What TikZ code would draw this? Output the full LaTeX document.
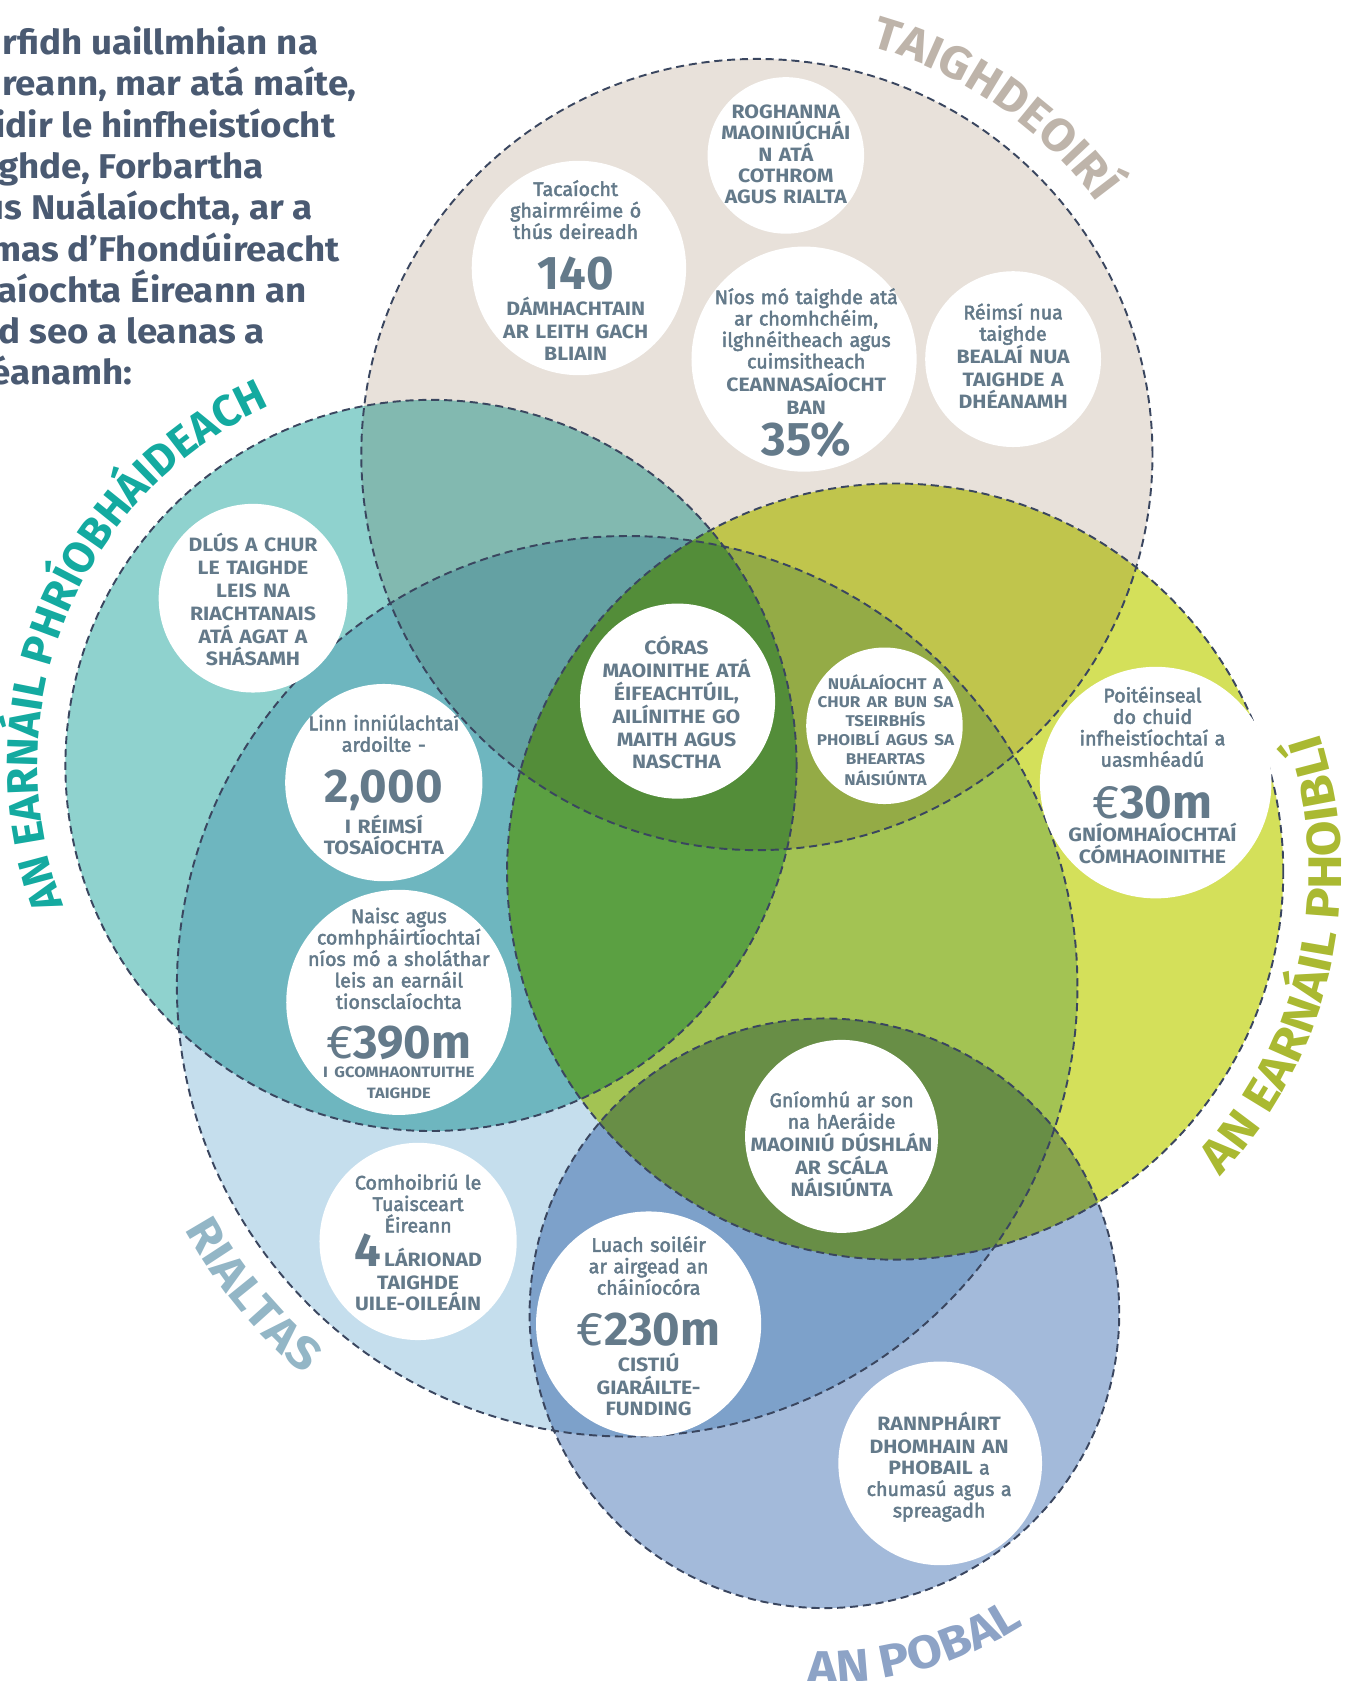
\documentclass[tikz,border=0pt]{standalone}
\usepackage{fontspec}
\setmainfont{Fira Sans}
\newfontfamily\fira{Fira Sans}
\newfontfamily\firar[FakeBold=2.5]{Fira Sans}
\newfontfamily\firaw[FakeStretch=1.1]{Fira Sans}
\newfontfamily\firat[FakeStretch=1.05]{Fira Sans}
\newfontfamily\firai[FakeStretch=1.07]{Fira Sans}
\usetikzlibrary{decorations.text}
\definecolor{beigef}{RGB}{232,225,218}
\definecolor{tealf}{RGB}{143,210,206}
\definecolor{yellf}{RGB}{212,224,90}
\definecolor{rialf}{RGB}{197,222,237}
\definecolor{pobf}{RGB}{163,186,218}
\definecolor{dashc}{RGB}{58,70,95}
\definecolor{textc}{RGB}{100,122,138}
\definecolor{introc}{RGB}{74,90,114}
\definecolor{taighc}{RGB}{190,180,170}
\definecolor{privc}{RGB}{20,170,160}
\definecolor{publc}{RGB}{170,185,50}
\definecolor{rialc}{RGB}{147,182,198}
\definecolor{pobc}{RGB}{141,163,198}
\newcommand\rg{\firar\mdseries\fontsize{18.3}{20}\selectfont}
\newcommand\cp{\firaw\bfseries\fontsize{18}{21.5}\selectfont}
\newcommand\cpt{\firaw\bfseries\fontsize{18}{20}\selectfont}
\newcommand\sm{\firaw\bfseries\fontsize{14.5}{17.5}\selectfont}
\newcommand\smb{\firaw\bfseries\fontsize{14}{18}\selectfont}
\newcommand\bignum{\fira\bfseries\fontsize{44}{44}\selectfont}
\newcommand\eur{{\fira\mdseries\fontsize{44}{44}\selectfont €}}
\begin{document}
\begin{tikzpicture}[x=1pt,y=1pt,
  venn/.style={blend mode=multiply},
  ring/.style={draw=dashc, line width=1.8pt, dash pattern=on 7.5pt off 4.5pt},
  bubble/.style={circle, fill=white, inner sep=0pt, draw=none},
  btext/.style={align=center, text width=240pt, text=textc, inner sep=0pt, font=\rg},
  intro/.style={anchor=base east, text=introc, inner sep=0pt, font=\firai\bfseries\fontsize{32}{38.5}\selectfont},
]
\useasboundingbox (0,0) rectangle (1265,1568);
\clip (0,0) rectangle (1265,1568);

% circle centres
\coordinate (cB) at (706,1144);
\coordinate (cT) at (402,854);
\coordinate (cY) at (835,755);
\coordinate (cR) at (585,648);
\coordinate (cP) at (769,343);

% fills (multiply)
\fill[venn, beigef] (cB) circle[radius=369];
\fill[venn, tealf] (cT) circle[radius=341];
\fill[venn, yellf] (cY) circle[radius=362];
\fill[venn, rialf] (cR) circle[radius=420];
\fill[venn, pobf] (cP) circle[radius=275];

% dashed outlines
\draw[ring] (cB) circle[radius=369];
\draw[ring] (cT) circle[radius=341];
\draw[ring] (cY) circle[radius=362];
\draw[ring] (cR) circle[radius=420];
\draw[ring] (cP) circle[radius=275];

% white bubbles
\node[bubble, minimum size=146pt] (b1) at (733,1423) {};
\node[bubble, minimum size=200pt] (b2) at (540,1318) {};
\node[bubble, minimum size=210pt] (b3) at (750,1233) {};
\node[bubble, minimum size=164pt] (b4) at (945,1233) {};
\node[bubble, minimum size=176pt] (b5) at (236,1010) {};
\node[bubble, minimum size=184pt] (b6) at (358,838) {};
\node[bubble, minimum size=182pt] (b7) at (632,914) {};
\node[bubble, minimum size=146pt] (b8) at (825,891) {};
\node[bubble, minimum size=216pt] (b9) at (1078,838) {};
\node[bubble, minimum size=210pt] (b10) at (372,633) {};
\node[bubble, minimum size=184pt] (b11) at (390,410) {};
\node[bubble, minimum size=180pt] (b12) at (785,508) {};
\node[bubble, minimum size=210pt] (b13) at (605,333) {};
\node[bubble, minimum size=190pt] (b14) at (877,203) {};

% bubble texts
\node[btext] (t1) at (733,1424) {\cpt ROGHANNA\\MAOINIÚCHÁI\\N ATÁ\\COTHROM\\AGUS RIALTA};
\node[btext] (t2) at (537,1316) {Tacaíocht\\ghairmréime ó\\thús deireadh\\[3pt]\bignum 140\\[3pt]\cp DÁMHACHTAIN\\AR LEITH GACH\\BLIAIN};
\node[btext] (t3) at (752,1220) {Níos mó taighde atá\\ar chomhchéim,\\ilghnéitheach agus\\cuimsitheach\\\cp CEANNASAÍOCHT\\BAN\\[6pt]\bignum 35\%};
\node[btext] (t4) at (945,1236) {Réimsí nua\\taighde\\\cp BEALAÍ NUA\\TAIGHDE A\\DHÉANAMH};
\node[btext] (t5) at (236,1009) {\cp DLÚS A CHUR\\LE TAIGHDE\\LEIS NA\\RIACHTANAIS\\ATÁ AGAT A\\SHÁSAMH};
\node[btext] (t6) at (358,836) {Linn inniúlachtaí\\ardoilte -\\[3pt]\bignum 2,000\\[3pt]\cp I RÉIMSÍ\\TOSAÍOCHTA};
\node[btext] (t7) at (631,913) {\cp CÓRAS\\MAOINITHE ATÁ\\ÉIFEACHTÚIL,\\AILÍNITHE GO\\MAITH AGUS\\NASCTHA};
\node[btext] (t8) at (826,887) {\sm NUÁLAÍOCHT A\\CHUR AR BUN SA\\TSEIRBHÍS\\PHOIBLÍ AGUS SA\\BHEARTAS\\NÁISIÚNTA};
\node[btext] (t9) at (1075,845) {Poitéinseal\\do chuid\\infheistíochtaí a\\uasmhéadú\\[4pt]\bignum \eur30m\\[2pt]\cpt GNÍOMHAÍOCHTAÍ\\CÓMHAOINITHE};
\node[btext] (t10) at (372,632) {Naisc agus\\comhpháirtíochtaí\\níos mó a sholáthar\\leis an earnáil\\tionsclaíochta\\[2pt]\bignum \eur390m\\\smb I GCOMHAONTUITHE\\TAIGHDE};
\node[btext] (t11) at (390,409) {Comhoibriú le\\Tuaisceart\\Éireann\\{\bignum 4}\,\cp LÁRIONAD\\TAIGHDE\\UILE-OILEÁIN};
\node[btext] (t12) at (785,501) {Gníomhú ar son\\na hAeráide\\\cp MAOINIÚ DÚSHLÁN\\AR SCÁLA\\NÁISIÚNTA};
\node[btext] (t13) at (605,331) {Luach soiléir\\ar airgead an\\cháiníocóra\\[3pt]\bignum \eur230m\\[3pt]\cp CISTIÚ\\GIARÁILTE-\\FUNDING};
\node[btext] (t14) at (876,200) {\cp RANNPHÁIRT\\DHOMHAIN AN\\PHOBAIL \rg a\\chumasú agus a\\spreagadh};

% intro text (cut at the left edge)
\node[intro] (i1) at (297,1517) {rfidh uaillmhian na};
\node[intro] (i2) at (333,1478.5) {reann, mar atá maíte,};
\node[intro] (i3) at (313,1440) {idir le hinfheistíocht};
\node[intro] (i4) at (246,1401.5) {ghde, Forbartha};
\node[intro] (i5) at (292,1363) {us Nuálaíochta, ar a};
\node[intro] (i6) at (317,1324.5) {mas d’Fhondúireacht};
\node[intro] (i7) at (286,1286) {aíochta Éireann an};
\node[intro] (i8) at (247,1247.5) {id seo a leanas a};
\node[intro] (i9) at (124,1209) {éanamh:};

% curved labels
\path[shift={(706,1144)}, decorate, decoration={text along path, text align=center, text color=taighc, text={|\firat\bfseries\fontsize{43}{43}\selectfont|TAIGHDEOIRÍ}}] (100:395) arc[start angle=100, end angle=11, radius=395];
\path[shift={(402,854)}, decorate, decoration={text along path, text align=center, text color=privc, text={|\fira\bfseries\fontsize{41}{41}\selectfont|AN EARNÁIL PHRÍOBHÁIDEACH}}] (230:367) arc[start angle=230, end angle=85, radius=367];
\path[shift={(835,755)}, decorate, decoration={text along path, text align=center, text color=publc, text={|\firaw\bfseries\fontsize{44}{44}\selectfont|AN EARNÁIL PHOIBLÍ}}] (-65:416) arc[start angle=-65, end angle=40, radius=416];
\path[shift={(585,648)}, decorate, decoration={text along path, text align=center, text color=rialc, text={|\firaw\bfseries\fontsize{43}{43}\selectfont|RIALTAS}}] (190:471) arc[start angle=190, end angle=249, radius=471];
\path[shift={(769,343)}, decorate, decoration={text along path, text align=center, text color=pobc, text={|\firaw\bfseries\fontsize{43}{43}\selectfont|AN POBAL}}] (248:345) arc[start angle=248, end angle=322, radius=345];
\end{tikzpicture}
\end{document}
